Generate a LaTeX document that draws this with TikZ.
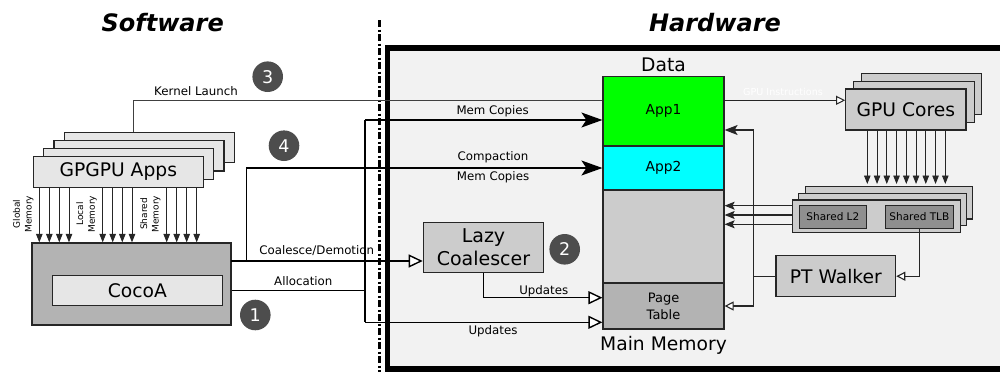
\documentclass[tikz,border=0pt]{standalone}
\usepackage{fontspec}
\setmainfont{DejaVu Sans}
\usetikzlibrary{arrows.meta}
\definecolor{hwbg}{HTML}{F2F2F2}
\definecolor{lgray}{HTML}{E6E6E6}
\definecolor{mgray}{HTML}{CCCCCC}
\definecolor{dgray}{HTML}{B3B3B3}
\definecolor{tgray}{HTML}{8F8F8F}
\definecolor{cgray}{HTML}{4D4D4D}
\definecolor{appgreen}{HTML}{00FF00}
\definecolor{appcyan}{HTML}{00FFFF}
\begin{document}
\begin{tikzpicture}[x=1pt,y=-1pt,
  box/.style={draw=black!85, line width=1.2pt, inner sep=0pt, align=center},
  lbl/.style={font=\fontsize{11.8}{14}\selectfont, inner sep=0pt, anchor=base},
  bigtxt/.style={font=\fontsize{18.7}{23}\selectfont},
  title/.style={font=\fontsize{24}{24}\selectfont\bfseries\itshape, inner sep=0pt},
  num/.style={circle, fill=cgray, minimum size=30.6pt, inner sep=0pt, text=white, font=\fontsize{17.5}{17.5}\selectfont},
  rot/.style={rotate=90, align=center, font=\fontsize{9}{11.7}\selectfont, inner sep=0pt},
  conn/.style={line width=1.4pt},
  connthin/.style={line width=1.1pt, draw=black!85},
  bigfill/.style={-{Stealth[length=21pt,width=15pt,inset=5pt]}},
  bigopen/.style={-{Triangle[open,length=14pt,width=13pt,fill=white]}},
  smallopen/.style={-{Triangle[open,length=9pt,width=9pt,fill=white]}},
  medfill/.style={-{Stealth[length=13pt,width=10pt,inset=3pt]}},
  shfill/.style={-{Stealth[length=10pt,width=8pt,inset=2pt]}},
  tinyarr/.style={line width=0.9pt, draw=black!85, -{Triangle[length=8.5pt,width=6.5pt]}}
]
\useasboundingbox (0,0) rectangle (1000,372);

% titles
\node[title] (sw) at (162.7,22.7) {Software};
\node[title] (hw) at (715,22.7) {Hardware};

% divider
\coordinate (dtop) at (379,20);
\coordinate (dbot) at (379,372);
\draw[line width=3pt, dash pattern=on 7pt off 2.5pt on 2pt off 2.5pt] (dtop) -- (dbot);

% hardware box
\node[draw, line width=5.5pt, fill=hwbg, minimum width=622.5pt, minimum height=321pt, inner sep=0pt] (hwbox) at (698.75,208.5) {};

% GPGPU apps stack
\foreach \n/\cx/\cy in {g4/149.3/147.4, g3/139/155.6, g2/128.6/163.8}
  \node[box, fill=lgray, minimum width=170pt, minimum height=30.6pt] (\n) at (\cx,\cy) {};
\node[box, fill=lgray, minimum width=170pt, minimum height=30.6pt, bigtxt] (g1) at (118.3,172) {GPGPU Apps};

% CocoA
\node[box, line width=1.8pt, fill=dgray, minimum width=199.6pt, minimum height=82pt] (coco) at (131.5,284.3) {};
\node[box, fill=lgray, minimum width=170pt, minimum height=30pt, bigtxt] (cocoin) at (137.3,290.7) {CocoA};

% memory arrows
\foreach \x in {39.3,49.3,59.3,69,102.7,112.7,122.3,132,166.7,176.7,186.7,196.7}
  \draw[tinyarr] (\x,0 |- g1.south) -- (\x,0 |- coco.north);
\node[rot] (glob) at (23.3,214) {Global\\Memory};
\node[rot] (locm) at (86.6,214) {Local\\Memory};
\node[rot] (shm) at (150.4,214) {Shared\\Memory};

% main memory column
\node[box, fill=appgreen, minimum width=121pt, minimum height=69.3pt, font=\fontsize{13.8}{16}\selectfont] (app1) at (663.5,111.35) {App1};
\node[box, fill=appcyan, minimum width=121pt, minimum height=44pt, font=\fontsize{13.8}{16}\selectfont] (app2) at (663.5,168) {App2};
\node[box, fill=mgray, minimum width=121pt, minimum height=93pt] (free) at (663.5,236.5) {};
\node[box, fill=dgray, minimum width=121pt, minimum height=46pt, font=\fontsize{13}{17}\selectfont] (pt) at (663.5,306) {Page\\Table};
\node[bigtxt, anchor=base, inner sep=0pt] (datal) at (663.5,71.7) {Data};
\node[bigtxt, anchor=base, inner sep=0pt] (mml) at (663.5,350) {Main Memory};

% lazy coalescer
\node[box, fill=mgray, minimum width=120.4pt, minimum height=50pt, font=\fontsize{19}{23}\selectfont] (lazy) at (483.5,247.3) {Lazy\\Coalescer};

% GPU cores stack
\node[box, fill=mgray, minimum width=120.3pt, minimum height=41pt] (c3) at (921.7,94.35) {};
\node[box, fill=mgray, minimum width=120.3pt, minimum height=41pt] (c2) at (914,101.85) {};
\node[box, fill=mgray, minimum width=120.3pt, minimum height=41pt, bigtxt] (c1) at (905.85,109.5) {GPU Cores};

% shared stack
\node[box, fill=mgray, minimum width=167.5pt, minimum height=32.7pt] (s3) at (888.85,202.65) {};
\node[box, fill=mgray, minimum width=167.5pt, minimum height=32.7pt] (s2) at (882.6,209.5) {};
\node[box, fill=mgray, minimum width=167.5pt, minimum height=32.7pt] (s1) at (876.35,216.35) {};
\node[box, line width=1pt, fill=tgray, minimum width=67.7pt, minimum height=23pt, font=\fontsize{10.5}{12}\selectfont] (l2) at (832.85,216.5) {Shared L2};
\node[box, line width=1pt, fill=tgray, minimum width=67.3pt, minimum height=23pt, font=\fontsize{10.5}{12}\selectfont] (tlb) at (919.35,216.5) {Shared TLB};

% PT walker
\node[box, fill=mgray, minimum width=119.7pt, minimum height=41pt, bigtxt] (ptw) at (835.85,276.2) {PT Walker};

% GPU cores -> shared
\foreach \x in {867.3,877.05,886.8,896.55,906.3,916.05,925.8,935.55,945.3}
  \draw[tinyarr] (\x,0 |- c1.south) -- (\x,184);

% shared -> data
\foreach \y in {205.7,215,224.3}
  \draw[connthin, shfill] (s1.west |- 0,\y) -- (free.east |- 0,\y);

% bus from PT walker
\coordinate (busT) at (753.3,130);
\coordinate (busB) at (753.3,306);
\draw[connthin] (ptw.west) -- (ptw.west -| busT);
\draw[connthin, medfill] (ptw.west -| busT) -- (busT) -- (app1.east |- busT);
\draw[connthin, smallopen] (ptw.west -| busT) -- (busB) -- (pt.east);
\draw[connthin, smallopen] (tlb.south) |- (ptw.east);

% GPU instructions
\draw[line width=1pt, draw=black!85, smallopen] (app1.east |- 0,100.3) -- (c1.west |- 0,100.3);
\node[lbl, text=white, font=\fontsize{9.6}{11}\selectfont] (gpui) at (783,95.3) {GPU Instructions};

% Kernel launch
\coordinate (klS) at (133.3,132);
\draw[line width=1pt, draw=black!75] (klS) -- (133.3,100.3) -- (app1.west |- 0,100.3);
\node[lbl] (kll) at (196,95.7) {Kernel Launch};

% left bus
\coordinate (lbT) at (365,120);
\coordinate (lbB) at (365,322.3);
\draw[conn, bigfill] (lbT) -- (app1.west |- lbT);
\draw[conn] (lbT) -- (lbB);
\draw[conn, bigopen] (lbB) -- (pt.west |- lbB);
\draw[conn] (cocoin.east -| coco.east) -- (cocoin.east -| lbT);
\node[lbl] (mc1) at (492.7,114.6) {Mem Copies};
\node[lbl] (upd2) at (493,334.6) {Updates};
\node[lbl] (alloc) at (303.3,285.3) {Allocation};

% coalesce / compaction
\coordinate (cdS) at (231.3,261);
\coordinate (cpS) at (246.3,261);
\draw[conn, bigopen] (cdS) -- (lazy.west |- cdS);
\draw[conn, bigfill] (cpS) |- (app2.west);
\node[lbl] (cdl) at (316.7,254.3) {Coalesce/Demotion};
\node[lbl] (cpl) at (493,160.9) {Compaction};
\node[lbl] (mc2) at (493,180.9) {Mem Copies};

% lazy -> page table
\draw[conn, bigopen] (lazy.south) |- (pt.west |- 0,297.7);
\node[lbl] (upd1) at (543.7,294.3) {Updates};

% numbers
\node[num] (n1) at (255.3,315) {1};
\node[num] (n2) at (564.7,249.3) {2};
\node[num] (n3) at (267.7,76.7) {3};
\node[num] (n4) at (284,145.7) {4};
\end{tikzpicture}
\end{document}
